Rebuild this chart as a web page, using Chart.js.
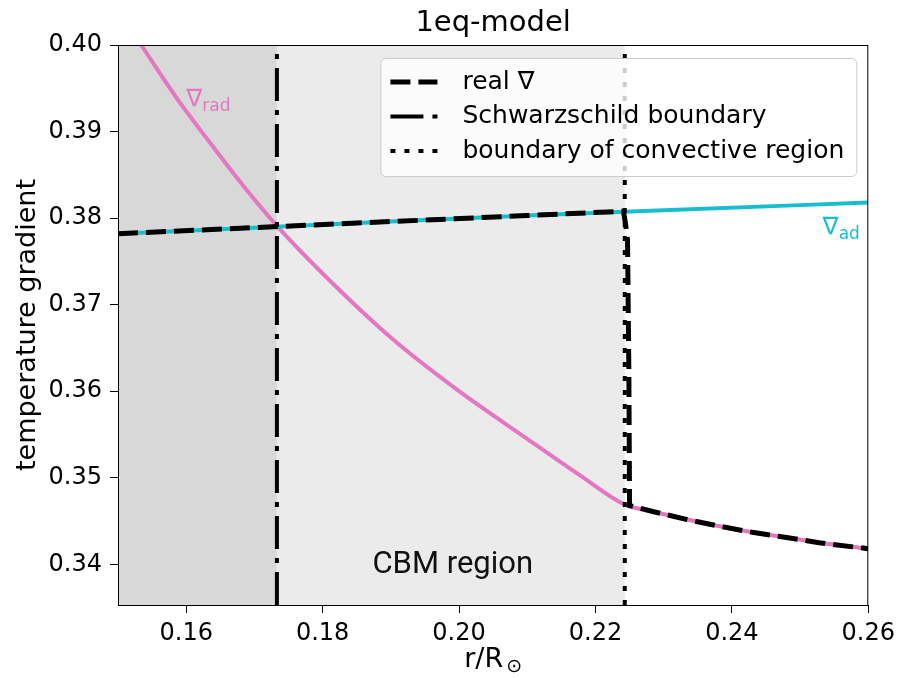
<!DOCTYPE html>
<html>
<head>
<meta charset="utf-8">
<script src="https://cdn.jsdelivr.net/npm/chart.js@4.4.1/dist/chart.umd.min.js"></script>
<style>
  body { margin: 0; background: #fff; }
</style>
</head>
<body>
<canvas id="chart" width="901" height="678"></canvas>
<script>
// nabla_rad
var radR = [0.1523, 0.1534, 0.1584, 0.1635, 0.1686, 0.1733, 0.1800, 0.1900, 0.2000, 0.2100, 0.2177, 0.2243,
            0.2284, 0.2333, 0.2382, 0.2430, 0.2480, 0.2528, 0.2600];
var gradRad = [0.4013, 0.4000, 0.3941, 0.3887, 0.3835, 0.3791, 0.3736, 0.3662, 0.3600, 0.3545, 0.3503, 0.3469,
               0.3461, 0.3452, 0.3444, 0.3437, 0.3431, 0.3425, 0.3418];

// nabla_ad
var adR = [0.15, 0.17, 0.19, 0.21, 0.23, 0.25, 0.26];
var gradAd = [0.3782, 0.3789, 0.3796, 0.3803, 0.3809, 0.3815, 0.3818];

// real nabla
var realR = [0.15, 0.17, 0.19, 0.21, 0.2241, 0.2244, 0.2247, 0.2249, 0.2250,
             0.2284, 0.2333, 0.2382, 0.2430, 0.2480, 0.2528, 0.2600];
var gradReal = [0.3782, 0.3789, 0.3796, 0.3803, 0.3808, 0.3794, 0.3775, 0.3620, 0.3468,
                0.3461, 0.3452, 0.3444, 0.3437, 0.3431, 0.3425, 0.3418];

var schwarzschildR = 0.1733;
var convBoundaryR = 0.2243;

var xTicks = [0.16, 0.18, 0.20, 0.22, 0.24, 0.26];
var yTicks = [0.34, 0.35, 0.36, 0.37, 0.38, 0.39, 0.40];
var xMin = 0.15, xMax = 0.26, yMin = 0.3353, yMax = 0.40;

var legendLabels = ["real \u2207", "Schwarzschild boundary", "boundary of convective region"];

function pts(xs, ys) {
    return xs.map(function(v, i) { return {x: v, y: ys[i]}; });
}

var FONT = '"DejaVu Sans"';

function drawNabla(ctx, sub, x, y, color) {
    ctx.fillStyle = color;
    ctx.textAlign = "left";
    ctx.textBaseline = "alphabetic";
    ctx.font = "24px " + FONT;
    ctx.fillText("\u2207", x, y);
    var w = ctx.measureText("\u2207").width;
    ctx.font = "17px " + FONT;
    ctx.fillText(sub, x + w, y + 5);
}

var decor = {
    id: "decor",
    beforeDatasetsDraw: function(chart) {
        var ctx = chart.ctx, a = chart.chartArea, x = chart.scales.x;
        ctx.save();
        ctx.fillStyle = "#d8d8d8";
        ctx.fillRect(a.left, a.top, x.getPixelForValue(schwarzschildR) - a.left, a.bottom - a.top);
        ctx.fillStyle = "#ebebeb";
        ctx.fillRect(x.getPixelForValue(schwarzschildR), a.top,
            x.getPixelForValue(convBoundaryR) - x.getPixelForValue(schwarzschildR), a.bottom - a.top);
        ctx.restore();
    },
    afterDatasetsDraw: function(chart) {
        var ctx = chart.ctx, a = chart.chartArea, x = chart.scales.x, y = chart.scales.y;
        ctx.save();

        // text labels in the plot
        drawNabla(ctx, "rad", x.getPixelForValue(0.16), y.getPixelForValue(0.393), "#e377c2");
        drawNabla(ctx, "ad", x.getPixelForValue(0.2533), y.getPixelForValue(0.37815), "#17becf");
        ctx.fillStyle = "#111";
        ctx.font = "31px Roboto";
        ctx.textBaseline = "alphabetic";
        ctx.fillText("CBM region", x.getPixelForValue(0.1873), y.getPixelForValue(0.339));

        // frame
        ctx.strokeStyle = "#000";
        ctx.lineWidth = 1;
        ctx.strokeRect(a.left + 0.5, a.top + 0.5, a.right - a.left - 1, a.bottom - a.top);

        // title
        var cx = (a.left + a.right) / 2;
        ctx.fillStyle = "#000";
        ctx.textAlign = "center";
        ctx.font = "29px " + FONT;
        ctx.fillText("1eq-model", cx, a.top - 14);

        // x label with subscript sun
        ctx.textAlign = "left";
        ctx.font = "27px " + FONT;
        var w1 = ctx.measureText("r/R").width;
        ctx.font = "19px " + FONT;
        var w2 = ctx.measureText("\u2299").width;
        var x0 = cx - (w1 + w2 + 3) / 2;
        ctx.font = "27px " + FONT;
        ctx.fillText("r/R", x0, 667);
        ctx.font = "19px " + FONT;
        ctx.fillText("\u2299", x0 + w1 + 3, 672);

        // y label
        ctx.save();
        ctx.translate(28, (a.top + a.bottom) / 2);
        ctx.rotate(-Math.PI / 2);
        ctx.textAlign = "center";
        ctx.textBaseline = "middle";
        ctx.font = "27px " + FONT;
        ctx.fillText("temperature gradient", 0, 0);
        ctx.restore();

        // legend
        ctx.font = "25px " + FONT;
        var textW = 0;
        legendLabels.forEach(function(t) { textW = Math.max(textW, ctx.measureText(t).width); });
        var bw = 82 + textW + 12, bh = 118;
        var bx = a.right - 12 - bw, by = a.top + 13;
        ctx.beginPath();
        ctx.roundRect(bx + 0.5, by + 0.5, bw, bh, 5);
        ctx.fillStyle = "rgba(255,255,255,0.8)";
        ctx.fill();
        ctx.strokeStyle = "#cccccc";
        ctx.stroke();
        var sets = [2, 3, 4];
        sets.forEach(function(di, i) {
            var ds = chart.data.datasets[di];
            var ry = by + 24 + i * 34.5;
            ctx.save();
            ctx.strokeStyle = "#000";
            ctx.lineWidth = ds.borderWidth;
            ctx.setLineDash(ds.borderDash);
            ctx.beginPath();
            ctx.moveTo(bx + 10, ry);
            ctx.lineTo(bx + 57, ry);
            ctx.stroke();
            ctx.restore();
            ctx.fillStyle = "#000";
            ctx.textAlign = "left";
            ctx.textBaseline = "middle";
            ctx.fillText(legendLabels[i], bx + 82, ry);
        });
        ctx.restore();
    }
};

new Chart(document.getElementById("chart"), {
    type: "line",
    data: {
        datasets: [{
            data: pts(radR, gradRad),
            borderColor: "#e377c2",
            borderWidth: 4,
            cubicInterpolationMode: "monotone",
            order: 5
        }, {
            data: pts(adR, gradAd),
            borderColor: "#17becf",
            borderWidth: 4,
            order: 4
        }, {
            data: pts(realR, gradReal),
            borderColor: "#000",
            borderWidth: 5,
            borderDash: [20, 8],
            order: 3
        }, {
            data: pts([schwarzschildR, schwarzschildR], [yMin, yMax]),
            borderColor: "#000",
            borderWidth: 4,
            borderDash: [33, 9, 5, 9],
            order: 2
        }, {
            data: pts([convBoundaryR, convBoundaryR], [yMin, yMax]),
            borderColor: "#000",
            borderWidth: 4,
            borderDash: [5, 9],
            order: 1
        }]
    },
    options: {
        responsive: false,
        animation: false,
        clip: 0,
        layout: { padding: { left: 0, right: 32, top: 45, bottom: 0 } },
        elements: { point: { radius: 0 }, line: { tension: 0, fill: false } },
        plugins: {
            legend: { display: false },
            tooltip: { enabled: false },
            title: { display: false }
        },
        scales: {
            x: {
                type: "linear",
                min: xMin,
                max: xMax,
                afterBuildTicks: function(s) { s.ticks = xTicks.map(function(v) { return {value: v}; }); },
                afterFit: function(s) { s.height = 73; },
                border: { display: false },
                grid: { drawOnChartArea: false, drawTicks: true, tickLength: 8, color: "#000" },
                ticks: {
                    padding: 6,
                    color: "#000",
                    maxRotation: 0,
                    font: { family: "DejaVu Sans", size: 24 },
                    callback: function(v) { return v.toFixed(2); }
                }
            },
            y: {
                type: "linear",
                min: yMin,
                max: yMax,
                afterBuildTicks: function(s) { s.ticks = yTicks.map(function(v) { return {value: v}; }); },
                afterFit: function(s) { s.width = 118; },
                border: { display: false },
                grid: { drawOnChartArea: false, drawTicks: true, tickLength: 8, color: "#000" },
                ticks: {
                    padding: 8,
                    color: "#000",
                    font: { family: "DejaVu Sans", size: 24 },
                    callback: function(v) { return v.toFixed(2); }
                }
            }
        }
    },
    plugins: [decor]
});
</script>
</body>
</html>
